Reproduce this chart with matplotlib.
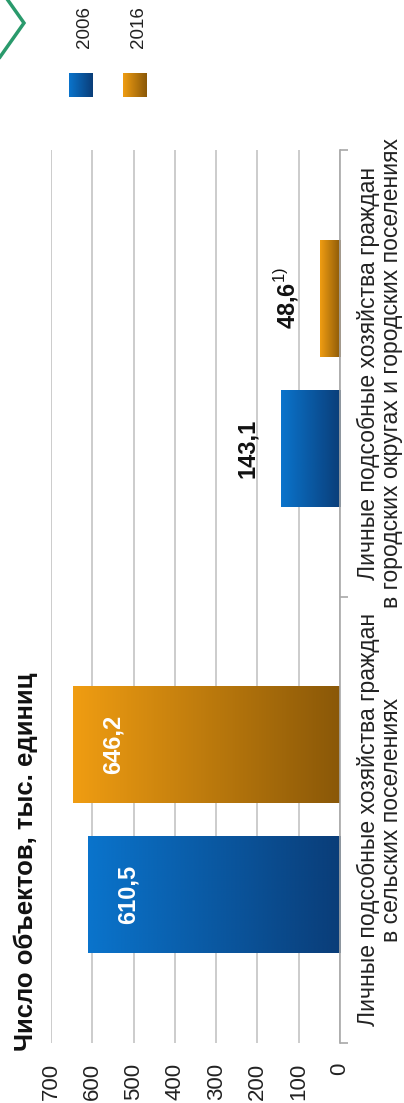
import numpy as np
import matplotlib.pyplot as plt
from matplotlib.colors import LinearSegmentedColormap
from matplotlib.patches import Rectangle

plt.rcParams['font.family'] = ['Liberation Sans', 'DejaVu Sans']
plt.rcParams['mathtext.fontset'] = 'custom'
plt.rcParams['mathtext.rm'] = 'Liberation Sans'

# data
categories = ['Личные подсобные хозяйства граждан\nв сельских поселениях',
              'Личные подсобные хозяйства граждан\nв городских округах и городских поселениях']
years = ['2006', '2016']
values_2006 = [610.5, 143.1]
values_2016 = [646.2, 48.6]
labels_2006 = ['610,5', '143,1']
labels_2016 = ['646,2', '48,6' + r'$^{1)}$']
ticks = [0, 100, 200, 300, 400, 500, 600, 700]
title = 'Число объектов, тыс. единиц'

blue_cmap = LinearSegmentedColormap.from_list('b', ['#0a74cc', '#0a3d78'])
orange_cmap = LinearSegmentedColormap.from_list('o', ['#f09d12', '#8a5808'])
grad = np.linspace(0, 1, 256).reshape(1, -1)

fig = plt.figure(figsize=(4.04, 11.03), dpi=100)
ax = fig.add_axes([51 / 404, 60 / 1103, 289 / 404, 893 / 1103])

y = np.arange(len(categories))
off, w = 0.168, 0.262
bars06 = ax.barh(y - off, values_2006, height=w, color='none')
bars16 = ax.barh(y + off, values_2016, height=w, color='none')

# gradient fill clipped to bars
for bars, cmap in [(bars06, blue_cmap), (bars16, orange_cmap)]:
    for b in bars:
        x0, y0 = b.get_x(), b.get_y()
        im = ax.imshow(grad, cmap=cmap, aspect='auto', interpolation='bilinear',
                       extent=(x0 + b.get_width(), x0, y0, y0 + b.get_height()), zorder=2)
        im.set_clip_path(b)
ax.set_aspect('auto')
ax.set_xlim(700, 0)
ax.set_ylim(-0.5, 1.5)

# value labels
for i, (v, t) in enumerate(zip(values_2006, labels_2006)):
    inside = v > 300
    ax.annotate(t, (v, i - off), xytext=(29 if inside else -24, 0), textcoords='offset points',
                rotation=90, ha='center', va='center', fontsize=17, fontweight='bold',
                color='white' if inside else '#111111', zorder=3)
for i, (v, t) in enumerate(zip(values_2016, labels_2016)):
    inside = v > 300
    ax.annotate(t, (v, i + off), xytext=(29 if inside else -24, 0), textcoords='offset points',
                rotation=90, ha='center', va='center', fontsize=17, fontweight='bold',
                color='white' if inside else '#111111', zorder=3)

# axes styling
ax.set_xticks(ticks)
ax.set_xticklabels([str(t) for t in ticks], rotation=90, fontsize=16, color='#222222')
ax.tick_params(axis='x', length=0, pad=14)
ax.grid(True, axis='x', color='#c4c4c4', linewidth=1.2, zorder=0)
ax.set_axisbelow(True)
for s in ['left', 'top', 'bottom']:
    ax.spines[s].set_visible(False)
ax.spines['right'].set_color('#a8a8a8')
ax.spines['right'].set_linewidth(1.2)
ax.yaxis.tick_right()
ax.set_yticks([-0.5, 0.5, 1.5])
ax.set_yticklabels([])
ax.tick_params(axis='y', length=6, color='#a8a8a8', width=1.2)

for i, c in enumerate(categories):
    ax.text(1.058, i, c, transform=ax.get_yaxis_transform(), rotation=90,
            ha='left', va='center', multialignment='center', fontsize=16.5,
            color='#222222', linespacing=1.0)

# overlay in pixel coordinates: title, legend, chevron
ov = fig.add_axes([0, 0, 1, 1])
ov.axis('off')
ov.patch.set_alpha(0)

ov.text(26, 862, title, rotation=90, ha='center', va='center', fontsize=18.5, fontweight='bold',
        color='#111111')

ov.plot([0, 24, 0], [-11, 23, 57], color='#2a9a6c', linewidth=2.5, solid_joinstyle='miter')

for k, (yr, cmap) in enumerate(zip(years, [blue_cmap, orange_cmap])):
    x0 = 69 + 54 * k
    sq = Rectangle((x0, 73), 24, 24, facecolor='none', edgecolor='none')
    ov.add_patch(sq)
    im = ov.imshow(grad, cmap=cmap, aspect='auto', extent=(x0, x0 + 24, 97, 73))
    im.set_clip_path(sq)
    ov.text(x0 + 16, 27, yr, rotation=90, ha='center', va='center', fontsize=13.5,
            color='#222222')
ov.set_xlim(0, 404)
ov.set_ylim(1103, 0)

fig.savefig('out.png', dpi=100)
